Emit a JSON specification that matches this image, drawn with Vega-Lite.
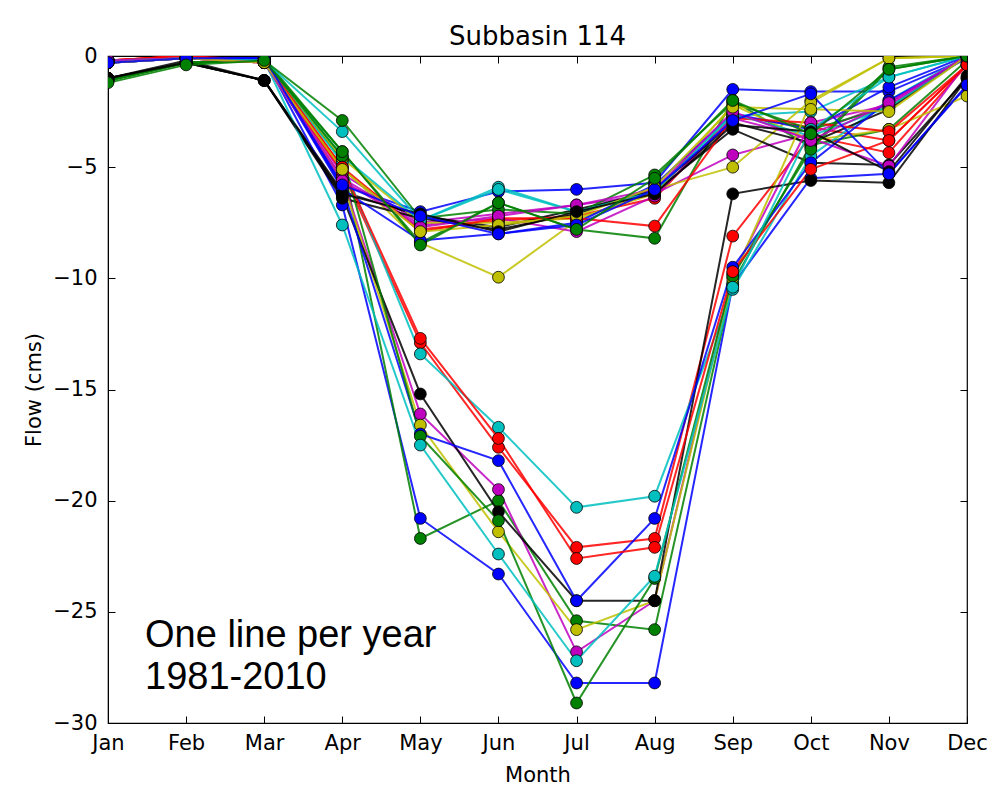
{
  "$schema": "https://vega.github.io/schema/vega-lite/v6.json",
  "width": 859,
  "height": 667,
  "autosize": "none",
  "padding": {"left": 108, "top": 56, "right": 26, "bottom": 64},
  "background": "white",
  "config": {"view": {"stroke": "black", "strokeWidth": 1.2}, "font": "DejaVu Sans"},
  "title": {"text": "Subbasin 114", "fontSize": 26, "font": "DejaVu Sans", "fontWeight": "normal", "offset": -5, "color": "black"},
  "datasets": {
    "flows": [
      {"year": 1981, "Jan": -0.3, "Feb": -0.1, "Mar": -0.1, "Apr": -5.8, "May": -7.0, "Jun": -6.1, "Jul": -6.0, "Aug": -5.7, "Sep": -1.5, "Oct": -1.6, "Nov": -1.6, "Dec": -0.1},
      {"year": 1982, "Jan": -1.1, "Feb": -0.3, "Mar": -0.1, "Apr": -4.3, "May": -8.4, "Jun": -6.6, "Jul": -7.8, "Aug": -8.2, "Sep": -2.0, "Oct": -4.1, "Nov": -0.5, "Dec": 0},
      {"year": 1983, "Jan": -0.2, "Feb": 0, "Mar": -0.3, "Apr": -5.1, "May": -7.8, "Jun": -7.4, "Jul": -7.2, "Aug": -6.4, "Sep": -2.7, "Oct": -3.2, "Nov": -3.8, "Dec": -0.4},
      {"year": 1984, "Jan": -0.2, "Feb": -0.1, "Mar": -0.2, "Apr": -3.4, "May": -7.4, "Jun": -5.9, "Jul": -7.0, "Aug": -6.0, "Sep": -2.7, "Oct": -2.5, "Nov": -0.95, "Dec": 0},
      {"year": 1985, "Jan": -0.2, "Feb": -0.1, "Mar": -0.3, "Apr": -5.3, "May": -7.5, "Jun": -7.1, "Jul": -6.7, "Aug": -6.2, "Sep": -4.45, "Oct": -3.5, "Nov": -2.1, "Dec": 0},
      {"year": 1986, "Jan": -0.3, "Feb": -0.1, "Mar": -0.3, "Apr": -5.0, "May": -8.4, "Jun": -9.95, "Jul": -7.4, "Aug": -6.0, "Sep": -5.0, "Oct": -2.0, "Nov": -0.1, "Dec": 0},
      {"year": 1987, "Jan": -1.0, "Feb": -0.2, "Mar": -1.1, "Apr": -6.1, "May": -7.2, "Jun": -7.7, "Jul": -6.9, "Aug": -6.1, "Sep": -3.3, "Oct": -4.8, "Nov": -4.9, "Dec": -1.0},
      {"year": 1988, "Jan": -0.3, "Feb": -0.1, "Mar": -0.1, "Apr": -6.7, "May": -20.8, "Jun": -23.3, "Jul": -28.2, "Aug": -28.2, "Sep": -10.3, "Oct": -5.5, "Nov": -5.3, "Dec": -1.35},
      {"year": 1989, "Jan": -1.1, "Feb": -0.3, "Mar": -0.2, "Apr": -4.7, "May": -21.7, "Jun": -20.0, "Jul": -25.4, "Aug": -25.8, "Sep": -10.2, "Oct": -4.0, "Nov": -3.3, "Dec": -0.2},
      {"year": 1990, "Jan": -0.2, "Feb": 0, "Mar": -0.3, "Apr": -5.2, "May": -12.9, "Jun": -17.6, "Jul": -22.1, "Aug": -21.7, "Sep": -8.1, "Oct": -3.6, "Nov": -4.35, "Dec": -0.4},
      {"year": 1991, "Jan": -0.2, "Feb": -0.1, "Mar": -0.2, "Apr": -4.8, "May": -13.4, "Jun": -16.7, "Jul": -20.3, "Aug": -19.8, "Sep": -10.5, "Oct": -4.5, "Nov": -2.0, "Dec": 0},
      {"year": 1992, "Jan": -0.2, "Feb": -0.1, "Mar": -0.3, "Apr": -5.5, "May": -7.6, "Jun": -7.3, "Jul": -7.9, "Aug": -6.3, "Sep": -2.8, "Oct": -3.7, "Nov": -4.95, "Dec": -0.3},
      {"year": 1993, "Jan": -0.2, "Feb": -0.1, "Mar": -0.2, "Apr": -4.6, "May": -7.5, "Jun": -7.5, "Jul": -7.3, "Aug": -6.2, "Sep": -2.2, "Oct": -3.8, "Nov": -3.3, "Dec": -1.8},
      {"year": 1994, "Jan": -1.0, "Feb": -0.3, "Mar": -1.1, "Apr": -6.4, "May": -7.3, "Jun": -7.8, "Jul": -7.1, "Aug": -6.0, "Sep": -3.0, "Oct": -3.9, "Nov": -2.4, "Dec": 0},
      {"year": 1995, "Jan": -0.3, "Feb": -0.1, "Mar": -0.1, "Apr": -6.0, "May": -8.3, "Jun": -8.0, "Jul": -7.5, "Aug": -5.8, "Sep": -2.6, "Oct": -3.3, "Nov": -1.4, "Dec": 0},
      {"year": 1996, "Jan": -1.1, "Feb": -0.3, "Mar": -0.2, "Apr": -2.9, "May": -7.3, "Jun": -6.9, "Jul": -7.1, "Aug": -5.35, "Sep": -2.1, "Oct": -3.3, "Nov": -2.3, "Dec": 0},
      {"year": 1997, "Jan": -0.2, "Feb": 0, "Mar": -0.2, "Apr": -5.0, "May": -7.9, "Jun": -7.3, "Jul": -7.3, "Aug": -7.65, "Sep": -2.8, "Oct": -3.0, "Nov": -3.4, "Dec": -0.4},
      {"year": 1998, "Jan": -0.2, "Feb": -0.1, "Mar": -0.2, "Apr": -4.5, "May": -7.4, "Jun": -6.0, "Jul": -7.0, "Aug": -6.1, "Sep": -2.6, "Oct": -3.6, "Nov": -2.3, "Dec": 0},
      {"year": 1999, "Jan": -0.2, "Feb": -0.1, "Mar": -0.3, "Apr": -5.5, "May": -16.1, "Jun": -19.5, "Jul": -26.8, "Aug": -24.5, "Sep": -9.8, "Oct": -3.0, "Nov": -2.2, "Dec": 0},
      {"year": 2000, "Jan": -0.3, "Feb": -0.1, "Mar": -0.3, "Apr": -5.6, "May": -16.6, "Jun": -21.4, "Jul": -25.8, "Aug": -24.5, "Sep": -10.0, "Oct": -2.1, "Nov": -0.1, "Dec": 0},
      {"year": 2001, "Jan": -1.0, "Feb": -0.3, "Mar": -1.1, "Apr": -6.3, "May": -15.2, "Jun": -20.5, "Jul": -24.5, "Aug": -24.5, "Sep": -6.2, "Oct": -5.6, "Nov": -5.7, "Dec": -1.0},
      {"year": 2002, "Jan": -0.3, "Feb": -0.1, "Mar": -0.1, "Apr": -5.9, "May": -17.0, "Jun": -18.2, "Jul": -24.5, "Aug": -20.8, "Sep": -9.5, "Oct": -4.8, "Nov": -2.0, "Dec": -0.1},
      {"year": 2003, "Jan": -1.1, "Feb": -0.3, "Mar": -0.2, "Apr": -4.5, "May": -17.1, "Jun": -20.9, "Jul": -29.1, "Aug": -23.5, "Sep": -9.9, "Oct": -4.2, "Nov": -0.6, "Dec": 0},
      {"year": 2004, "Jan": -0.2, "Feb": 0, "Mar": -0.3, "Apr": -5.0, "May": -12.7, "Jun": -17.2, "Jul": -22.6, "Aug": -22.1, "Sep": -9.7, "Oct": -5.1, "Nov": -3.8, "Dec": -0.4},
      {"year": 2005, "Jan": -0.2, "Feb": -0.1, "Mar": -0.2, "Apr": -7.6, "May": -17.5, "Jun": -22.4, "Jul": -27.2, "Aug": -23.4, "Sep": -10.4, "Oct": -3.3, "Nov": -0.95, "Dec": 0},
      {"year": 2006, "Jan": -0.2, "Feb": -0.1, "Mar": -0.3, "Apr": -5.6, "May": -7.7, "Jun": -7.2, "Jul": -6.7, "Aug": -6.0, "Sep": -2.5, "Oct": -3.8, "Nov": -2.1, "Dec": 0},
      {"year": 2007, "Jan": -0.3, "Feb": -0.1, "Mar": -0.3, "Apr": -5.1, "May": -7.9, "Jun": -7.6, "Jul": -7.2, "Aug": -5.9, "Sep": -2.3, "Oct": -2.4, "Nov": -2.5, "Dec": 0},
      {"year": 2008, "Jan": -1.0, "Feb": -0.3, "Mar": -1.1, "Apr": -6.2, "May": -7.1, "Jun": -7.9, "Jul": -7.0, "Aug": -6.2, "Sep": -3.1, "Oct": -3.4, "Nov": -5.2, "Dec": -0.9},
      {"year": 2009, "Jan": -0.3, "Feb": -0.1, "Mar": -0.1, "Apr": -5.8, "May": -7.2, "Jun": -8.0, "Jul": -7.6, "Aug": -6.0, "Sep": -2.9, "Oct": -1.7, "Nov": -5.3, "Dec": -1.3},
      {"year": 2010, "Jan": -1.2, "Feb": -0.4, "Mar": -0.2, "Apr": -4.3, "May": -8.5, "Jun": -6.6, "Jul": -7.8, "Aug": -5.5, "Sep": -2.0, "Oct": -3.5, "Nov": -0.6, "Dec": 0}
    ]
  },
  "resolve": {"axis": {"x": "independent", "y": "independent"}},
  "layer": [
    {
      "data": {"name": "flows"},
      "transform": [{"fold": ["Jan", "Feb", "Mar", "Apr", "May", "Jun", "Jul", "Aug", "Sep", "Oct", "Nov", "Dec"], "as": ["month", "flow"]}],
      "mark": {"type": "line", "strokeWidth": 2, "opacity": 0.85, "clip": true},
      "encoding": {
        "x": {"field": "month", "type": "ordinal", "scale": {"type": "point", "domain": ["Jan", "Feb", "Mar", "Apr", "May", "Jun", "Jul", "Aug", "Sep", "Oct", "Nov", "Dec"], "padding": 0},
          "axis": {"orient": "bottom", "title": "Month", "titleFont": "DejaVu Sans", "titleFontSize": 21, "titleFontWeight": "normal", "titleColor": "black", "titlePadding": 11,
            "labelFont": "DejaVu Sans", "labelFontSize": 21, "labelColor": "black", "labelPadding": 16, "labelAngle": 0, "labelFlush": false, "labelOverlap": false,
            "tickSize": -7, "tickColor": "black", "tickWidth": 1, "domainColor": "black", "grid": false}},
        "y": {"field": "flow", "type": "quantitative", "scale": {"domain": [-30, 0], "nice": false, "zero": false},
          "axis": {"orient": "left", "values": [0, -5, -10, -15, -20, -25, -30], "title": "Flow (cms)", "titleFont": "DejaVu Sans", "titleFontSize": 21, "titleFontWeight": "normal", "titleColor": "black", "titlePadding": 8,
            "labelFont": "DejaVu Sans", "labelFontSize": 21, "labelColor": "black", "labelPadding": 18, "labelFlush": false, "labelOverlap": false,
            "tickSize": -7, "tickColor": "black", "tickWidth": 1, "domainColor": "black", "grid": false}},
        "color": {"field": "year", "type": "nominal",
          "scale": {"domain": [1981, 1982, 1983, 1984, 1985, 1986, 1987, 1988, 1989, 1990, 1991, 1992, 1993, 1994, 1995, 1996, 1997, 1998, 1999, 2000, 2001, 2002, 2003, 2004, 2005, 2006, 2007, 2008, 2009, 2010],
            "range": ["#0000ff", "#008000", "#ff0000", "#00bfbf", "#bf00bf", "#bfbf00", "#000000", "#0000ff", "#008000", "#ff0000", "#00bfbf", "#bf00bf", "#bfbf00", "#000000", "#0000ff", "#008000", "#ff0000", "#00bfbf", "#bf00bf", "#bfbf00", "#000000", "#0000ff", "#008000", "#ff0000", "#00bfbf", "#bf00bf", "#bfbf00", "#000000", "#0000ff", "#008000"]},
          "legend": null}
      }
    },
    {
      "data": {"name": "flows"},
      "transform": [{"fold": ["Jan", "Feb", "Mar", "Apr", "May", "Jun", "Jul", "Aug", "Sep", "Oct", "Nov", "Dec"], "as": ["month", "flow"]}],
      "mark": {"type": "point", "filled": true, "size": 140, "stroke": "black", "strokeWidth": 0.8, "opacity": 1, "clip": true},
      "encoding": {
        "x": {"field": "month", "type": "ordinal", "axis": null},
        "y": {"field": "flow", "type": "quantitative", "axis": null},
        "color": {"field": "year", "type": "nominal", "legend": null}
      }
    },
    {
      "data": {"values": [{}]},
      "mark": {"type": "text", "text": ["One line per year", "1981-2010"], "font": "Liberation Sans", "fontSize": 38, "align": "left", "baseline": "alphabetic", "lineHeight": 42, "dx": 37, "color": "black"},
      "encoding": {
        "x": {"datum": "Jan", "type": "ordinal", "axis": null},
        "y": {"datum": -26.6, "type": "quantitative", "axis": null}
      }
    },
    {
      "data": {"name": "flows"},
      "transform": [{"fold": ["Jan", "Feb", "Mar", "Apr", "May", "Jun", "Jul", "Aug", "Sep", "Oct", "Nov", "Dec"], "as": ["month", "flow"]}],
      "mark": {"type": "point", "opacity": 0},
      "encoding": {
        "x": {"field": "month", "type": "ordinal", "axis": {"orient": "top", "labels": false, "title": null, "tickSize": -7, "tickColor": "black", "domain": false, "grid": false}},
        "y": {"field": "flow", "type": "quantitative", "axis": {"orient": "right", "values": [0, -5, -10, -15, -20, -25, -30], "labels": false, "title": null, "tickSize": -7, "tickColor": "black", "domain": false, "grid": false}}
      }
    }
  ]
}
